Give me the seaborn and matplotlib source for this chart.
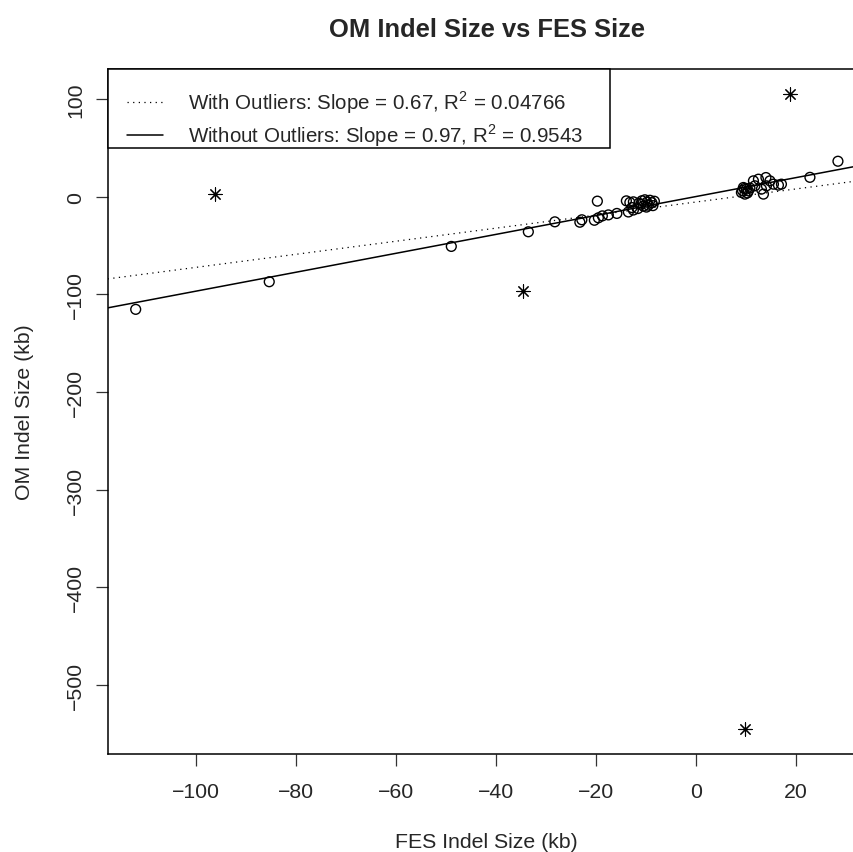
import numpy as np
import pandas as pd
import matplotlib
matplotlib.use("Agg")
import matplotlib.pyplot as plt
from matplotlib.patches import Rectangle
import seaborn as sns

# FES vs OM indel sizes (kb)
fes_kept = [-112.0, -85.3, -48.9, -33.5, -28.2,
            -23.2, -22.8, -20.3, -19.5, -18.7, -17.5, -15.8, -13.5, -12.5, -11.6, -12.8,
            -19.7, -13.9, -13.2, -12.5, -11.4, -10.8, -10.2, -9.8, -9.5, -9.2, -8.8, -8.3,
            -10.5, -11.0, -9.9, -8.6,
            9.1, 9.8, 10.5, 9.5, 10.1, 11.5, 12.5, 14.0, 14.1, 13.1, 13.5, 15.5, 16.5,
            17.1, 11.8, 14.8, 9.3, 10.3, 9.7, 10.8, 22.8, 28.4]
om_kept = [-115.3, -87.0, -50.8, -35.8, -25.6,
           -26.0, -23.5, -24.0, -21.5, -19.5, -18.5, -17.0, -15.5, -13.5, -12.0, -11.0,
           -4.4, -4.1, -5.7, -5.1, -6.5, -4.0, -3.0, -5.5, -8.5, -3.5, -6.0, -4.5,
           -9.5, -7.5, -10.5, -9.0,
           4.5, 2.8, 6.1, 9.6, 7.9, 16.4, 18.1, 19.8, 11.3, 7.9, 2.8, 13.0, 12.0,
           13.0, 11.3, 16.4, 6.5, 4.0, 8.5, 9.0, 20.0, 36.5]

fes_out = [-96.2, -34.6, 18.8, 9.8]
om_out = [2.8, -96.6, 105.0, -545.0]

# regression lines
fit_labels = ["With Outliers: Slope = 0.67, R$^2$ = 0.04766",
              "Without Outliers: Slope = 0.97, R$^2$ = 0.9543"]
fit_slopes = [0.67, 0.97]
fit_intercepts = [-5.3, 0.3]

kept = pd.DataFrame({"fes": fes_kept, "om": om_kept})
outl = pd.DataFrame({"fes": fes_out, "om": om_out})

sns.set_style("white")
plt.rcParams['font.family'] = ['Liberation Sans', 'DejaVu Sans']
plt.rcParams['mathtext.fontset'] = 'custom'
plt.rcParams['mathtext.rm'] = 'Liberation Sans'

fig = plt.figure(figsize=(8.54, 8.53), dpi=100)
ax = fig.add_axes([0.1261, 0.1149, 0.8879, 0.8030])

sns.scatterplot(data=kept, x="fes", y="om", marker="o", s=50, color="black",
                facecolor="none", edgecolor="black", linewidth=1.0, ax=ax)
sns.scatterplot(data=outl, x="fes", y="om", marker=(8, 2, 0), s=90, color="black",
                linewidth=0.8, ax=ax)

styles = [(0, (1, 3.5)), "-"]
widths = [0.9, 1.1]
for lab, m, b, ls, lw in zip(fit_labels, fit_slopes, fit_intercepts, styles, widths):
    ax.axline((0, b), slope=m, color="black", linestyle=ls, linewidth=lw, label=lab)

ax.set_xlim(-117.6, 34.0)
ax.set_ylim(-571, 131)
ax.set_xticks([-100, -80, -60, -40, -20, 0, 20])
ax.set_yticks([-500, -400, -300, -200, -100, 0, 100])
ax.tick_params(axis="both", direction="out", length=8.4, width=0.9, labelsize=15.3,
               color="#333333", left=True, bottom=True)
ax.tick_params(axis="x", pad=12)
ax.tick_params(axis="y", pad=8)
for t in ax.get_yticklabels():
    t.set_rotation(90)
    t.set_va("center")

for s in ax.spines.values():
    s.set_color("black")
    s.set_linewidth(1.1)

ax.set_title("OM Indel Size vs FES Size", fontsize=18.4, fontweight="bold", pad=24)
ax.set_xlabel("FES Indel Size (kb)", fontsize=15.3)
ax.set_ylabel("OM Indel Size (kb)", fontsize=15.3)
ax.xaxis.set_label_coords(0.5, -0.114)
ax.yaxis.set_label_coords(-0.097, 0.5)

# legend box drawn separately, R style
ax.add_patch(Rectangle((0, 0.8847), 0.6624, 0.1153, transform=ax.transAxes,
                       facecolor="white", edgecolor="black", linewidth=1.1,
                       zorder=4, clip_on=False))
leg = ax.legend(loc="upper left", bbox_to_anchor=(0.0255, 0.9715), borderaxespad=0,
                borderpad=0, fontsize=14.8, frameon=False, handlelength=1.74,
                handletextpad=1.22, labelspacing=0.3)
leg.set_zorder(5)

fig.savefig("out.png", dpi=100)
